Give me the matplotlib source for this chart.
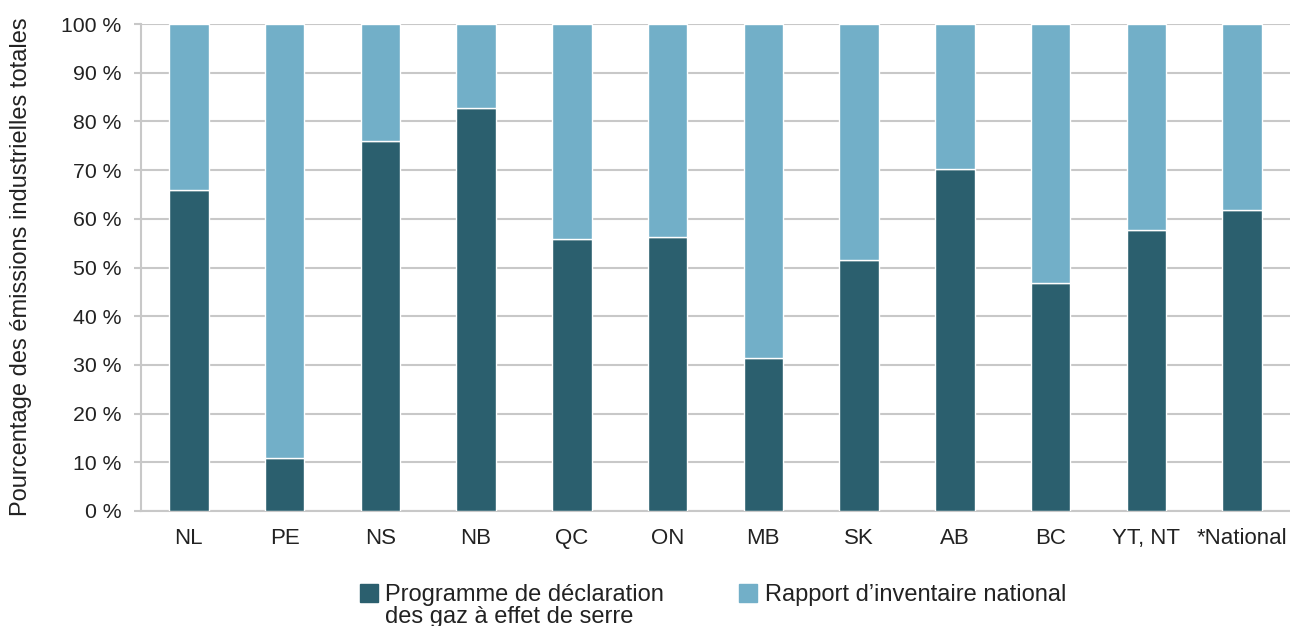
import numpy as np
import matplotlib.pyplot as plt
from matplotlib.patches import Rectangle

plt.rcParams['font.family'] = ['Liberation Sans', 'DejaVu Sans']

provinces = ["NL", "PE", "NS", "NB", "QC", "ON", "MB", "SK", "AB", "BC", "YT, NT", "*National"]
ghgrp = [65.9, 10.9, 76.0, 82.8, 55.8, 56.3, 31.4, 51.5, 70.2, 46.9, 57.7, 61.9]
nir = [100 - v for v in ghgrp]
legend_labels = ["Programme de déclaration\ndes gaz à effet de serre", "Rapport d’inventaire national"]

dark = "#2b5f6e"
light = "#72afc8"
W, H = 1290, 626

fig = plt.figure(figsize=(12.9, 6.26), dpi=100)
ax = fig.add_axes([141 / W, 1 - 511 / H, 1 - 141 / W, (511 - 24) / H])

x = np.arange(len(provinces))
ax.bar(x, ghgrp, width=0.41, color=dark, edgecolor="white", linewidth=1, zorder=3)
ax.bar(x, nir, width=0.41, bottom=ghgrp, color=light, edgecolor="white", linewidth=1, zorder=3)

ax.set_xlim(-0.5, len(provinces) - 0.5)
ax.set_ylim(0, 100)
ax.set_yticks(np.arange(0, 101, 10))
ax.set_yticklabels([f"{v} %" for v in range(0, 101, 10)])
ax.set_xticks(x)
ax.set_xticklabels(provinces)
ax.tick_params(axis="both", colors="#222222")
ax.tick_params(axis="x", labelsize=16, length=0, pad=12)
ax.tick_params(axis="y", labelsize=15.3, length=5, width=1.5, color="#c8c8c8", pad=9)
ax.grid(axis="y", color="#c8c8c8", linewidth=1.5, zorder=0)
for s in ["top", "right"]:
    ax.spines[s].set_visible(False)
for s in ["left", "bottom"]:
    ax.spines[s].set_color("#c8c8c8")
    ax.spines[s].set_linewidth(1.5)

ax.set_ylabel("Pourcentage des émissions industrielles totales", fontsize=17, color="#222222")
ax.yaxis.set_label_coords(32 / W, 1 - 267 / H, transform=fig.transFigure)

# legend drawn by hand so the swatches sit on the first text line
for (hx, tx), col, lab in zip([(360, 385), (739, 765)], [dark, light], legend_labels):
    fig.add_artist(Rectangle((hx / W, 1 - 602 / H), 18 / W, 18 / H, color=col,
                             transform=fig.transFigure))
    fig.text(tx / W, 1 - 584 / H, lab, fontsize=17, color="#222222", va="top",
             ha="left", linespacing=1.02)

fig.savefig("out.png", dpi=100)
